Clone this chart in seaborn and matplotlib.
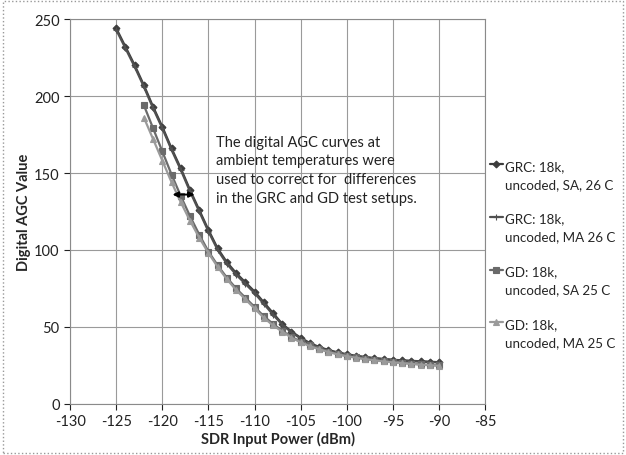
import numpy as np
import pandas as pd
import matplotlib
matplotlib.use("Agg")
import matplotlib.pyplot as plt
import seaborn as sns

# -----------------------------
# Data
# -----------------------------
grc_power = list(range(-125, -89))
gd_power = list(range(-122, -89))

grc_sa = [244, 232, 220, 207, 193, 180, 166, 153, 139, 126, 113, 101, 92, 85, 79,
          73, 66, 59, 52, 47, 43, 39.5, 37, 35, 33.5, 32.3, 31.3, 30.5, 29.8, 29.2,
          28.7, 28.3, 28, 27.7, 27.4, 27.1]
grc_ma = [243, 231, 219, 206, 192, 179, 165, 152, 138, 125, 112, 100, 91, 84, 78,
          72, 65, 58, 51.5, 46.5, 42.5, 39, 36.5, 34.5, 33, 32, 31, 30.2, 29.5, 29,
          28.5, 28.1, 27.8, 27.5, 27.2, 27]
gd_sa = [194, 179, 164, 149, 135, 122, 110, 99, 90, 82, 75, 69, 63, 57, 52, 47.5,
         43.5, 40.5, 38, 36, 34, 32.5, 31.2, 30.2, 29.3, 28.5, 27.8, 27.2, 26.7,
         26.2, 25.7, 25.3, 25]
gd_ma = [186, 172, 158, 144, 131, 119, 108, 98, 89, 81, 74, 68, 62, 56, 51, 47,
         43, 40, 37.5, 35.5, 33.7, 32.2, 31, 30, 29.1, 28.3, 27.6, 27, 26.5, 26,
         25.5, 25.1, 24.8]

labels = ["GRC: 18k,\nuncoded, SA, 26 C", "GRC: 18k,\nuncoded, MA 26 C",
          "GD: 18k,\nuncoded, SA 25 C", "GD: 18k,\nuncoded, MA 25 C"]
x_ticks = list(range(-130, -84, 5))
y_ticks = list(range(0, 251, 50))

note = ("The digital AGC curves at\nambient temperatures were\n"
        "used to correct for  differences\nin the GRC and GD test setups.")

series = [
    (grc_power, grc_sa, labels[0], "#3c3c3c", "D", 3.5),
    (grc_power, grc_ma, labels[1], "#505050", "+", 5),
    (gd_power, gd_sa, labels[2], "#6a6a6a", "s", 4.5),
    (gd_power, gd_ma, labels[3], "#9a9a9a", "^", 4.5),
]

sns.set_style("white")
plt.rcParams["font.family"] = ["Lato", "DejaVu Sans"]
plt.rcParams["axes.unicode_minus"] = False

fig = plt.figure(figsize=(6.26, 4.56), dpi=100)
ax = fig.add_axes([0.112, 0.112, 0.663, 0.844])

for xs, ys, lab, col, mk, ms in series:
    df = pd.DataFrame({"power": xs, "agc": ys})
    sns.lineplot(data=df, x="power", y="agc", ax=ax, color=col, marker=mk,
                 markersize=ms, linewidth=1.6, markeredgecolor=col,
                 markeredgewidth=0.8, label=lab)

ax.set_xlim(-130, -85)
ax.set_ylim(0, 250)
ax.set_xticks(x_ticks)
ax.set_yticks(y_ticks)
ax.grid(True, color="#9a9a9a", linewidth=0.8)
for s in ax.spines.values():
    s.set_color("#8a8a8a")
    s.set_linewidth(0.8)
ax.tick_params(axis="both", labelsize=10.5, colors="#222222", length=4,
               width=0.8, direction="out", bottom=True, left=True)
for t in ax.get_xticklines() + ax.get_yticklines():
    t.set_color("#8a8a8a")

ax.set_xlabel("SDR Input Power (dBm)", fontsize=10.5, fontweight="bold", labelpad=2)
ax.set_ylabel("Digital AGC Value", fontsize=10.5, fontweight="bold", labelpad=2)

ax.text(-114.2, 175, note, fontsize=10.5, va="top", ha="left", linespacing=1.45,
        color="#222222")
ax.annotate("", xy=(-119.2, 136), xytext=(-116.2, 136),
            arrowprops=dict(arrowstyle="<|-|>", color="black", lw=1.4,
                            mutation_scale=8))

leg = ax.legend(loc="center left", bbox_to_anchor=(0.995, 0.39), frameon=False,
                fontsize=9.6, handlelength=1.0, handletextpad=0.15,
                labelspacing=1.7, borderaxespad=0.1)
for t in leg.get_texts():
    t.set_linespacing(1.6)
# marker next to the first line of each label, like the original
for col in leg._legend_handle_box.get_children():
    for row in col.get_children():
        row.align = "top"

# dotted outer border
border = plt.Rectangle((0.004, 0.004), 0.992, 0.992, transform=fig.transFigure,
                       fill=False, edgecolor="#999999", linestyle=":", linewidth=1)
fig.patches.append(border)

fig.savefig("out.png", dpi=100)
